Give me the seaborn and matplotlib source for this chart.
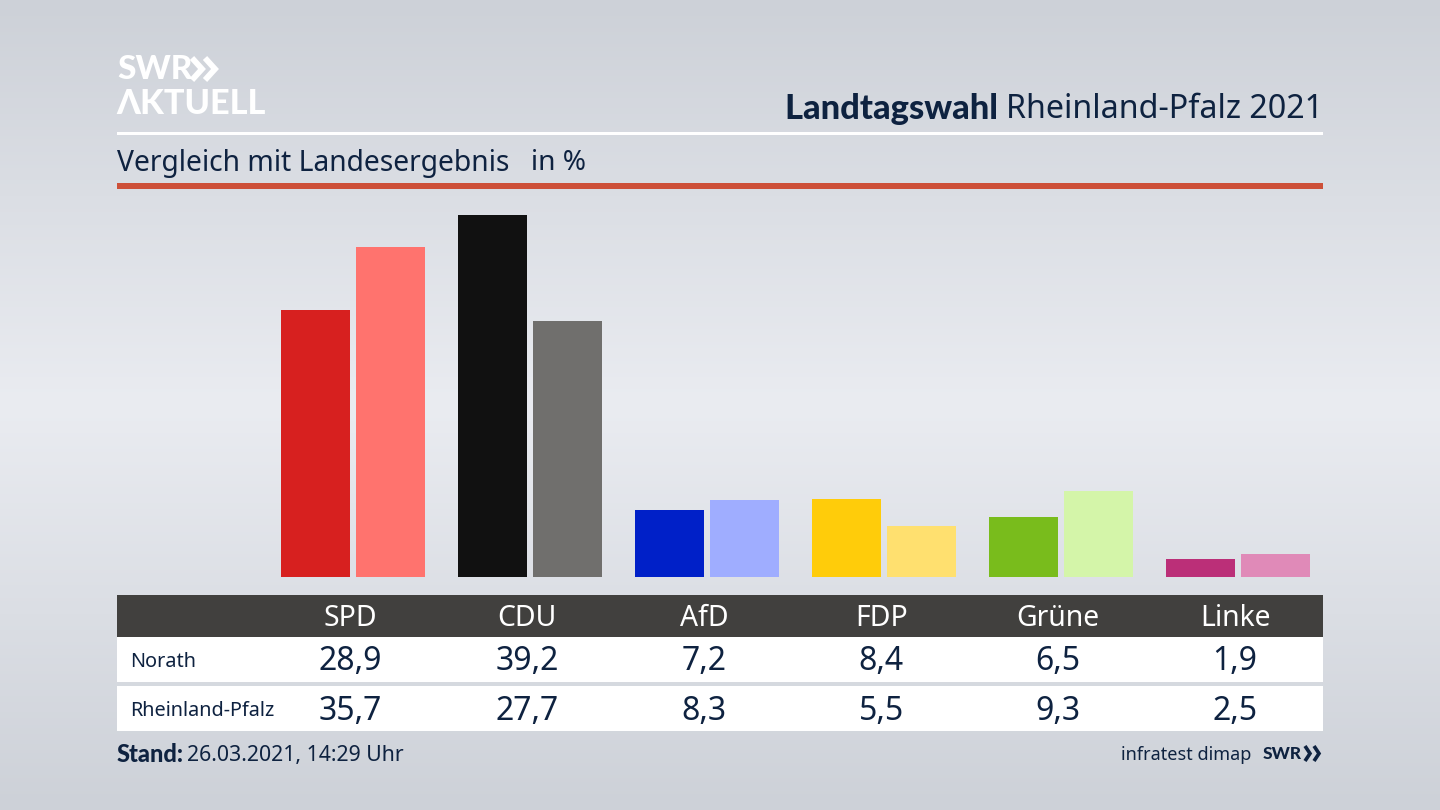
"""Landtagswahl Rheinland-Pfalz 2021: Norath vs. Landesergebnis."""
import numpy as np
import pandas as pd
import matplotlib
matplotlib.use("Agg")
import matplotlib.pyplot as plt
from matplotlib.colors import LinearSegmentedColormap
from matplotlib.patches import Rectangle
from matplotlib.transforms import Affine2D, blended_transform_factory
import seaborn as sns

PARTIES = ["SPD", "CDU", "AfD", "FDP", "Grüne", "Linke"]
NORATH = [28.9, 39.2, 7.2, 8.4, 6.5, 1.9]
LAND = [35.7, 27.7, 8.3, 5.5, 9.3, 2.5]
ROWS = ["Norath", "Rheinland-Pfalz"]
COLORS_NORATH = ["#d7201f", "#111111", "#0020c8", "#ffcc0a", "#79bc1c", "#bb2f78"]
COLORS_LAND = ["#ff736e", "#706f6d", "#9fadff", "#ffe06f", "#d4f5a9", "#e08ab8"]

NAVY = "#0e2240"
BOLD = "Lato"
W, H = 1440, 810

sns.set_theme(style="white")
plt.rcParams["font.family"] = ["Noto Sans", "DejaVu Sans"]

fig = plt.figure(figsize=(W / 100, H / 100), dpi=100)

# background, lightest around the middle of the picture
bg = fig.add_axes([0, 0, 1, 1], zorder=0)
bg.imshow(np.abs(np.linspace(-1, 1, 256)).reshape(-1, 1),
          cmap=LinearSegmentedColormap.from_list("bg", ["#eaecf1", "#cdd1d8"]),
          aspect="auto", extent=(0, W, H, 0), vmin=0, vmax=1)
bg.set_xlim(0, W)
bg.set_ylim(H, 0)
bg.axis("off")

# bars: x runs 265-1326 px, y 577 up to 189 px
ax = fig.add_axes([264.7 / W, 1 - 577 / H, (1326.2 - 264.7) / W, (577 - 189) / H], zorder=1)
ax.patch.set_alpha(0)
df = pd.DataFrame({
    "party": PARTIES * 2,
    "value": NORATH + LAND,
    "area": [ROWS[0]] * len(PARTIES) + [ROWS[1]] * len(PARTIES),
})
sns.barplot(data=df, x="party", y="value", hue="area", order=PARTIES, hue_order=ROWS,
            width=0.847, gap=0.08, legend=False, saturation=1, ax=ax)
for container, cols in zip(ax.containers, [COLORS_NORATH, COLORS_LAND]):
    for bar, c in zip(container, cols):
        bar.set_facecolor(c)
        bar.set_edgecolor("none")
ax.set_xlim(-0.5, 5.5)
ax.set_ylim(0, 42.0)
ax.axis("off")

# overlay in pixel coordinates for header and table
ov = fig.add_axes([0, 0, 1, 1], zorder=2)
ov.set_xlim(0, W)
ov.set_ylim(H, 0)
ov.axis("off")
ov.patch.set_alpha(0)

L, R = 117, 1323
ov.add_patch(Rectangle((L, 132), R - L, 3, color="white", lw=0))
ov.add_patch(Rectangle((L, 183), R - L, 6, color="#cd5039", lw=0))
ov.add_patch(Rectangle((L, 595), R - L, 42, color="#41403e", lw=0))
ov.add_patch(Rectangle((L, 637), R - L, 45, color="white", lw=0))
ov.add_patch(Rectangle((L, 686), R - L, 45, color="white", lw=0))

# logo
ov.text(117, 69.5, "SWR", color="white", fontsize=24, family=BOLD, fontweight="black", va="center", ha="left")
ov.text(116, 103.5, "ΛKTUELL", color="white", fontsize=24.7, family=[BOLD, "DejaVu Sans"], fontweight="black", va="center", ha="left")
for x0 in (192, 205):
    ov.plot([x0, x0 + 10, x0], [58, 69, 80], color="white", lw=4.2, solid_joinstyle="miter", solid_capstyle="butt")

# title
title = ov.text(1323, 109, "Rheinland-Pfalz 2021", color=NAVY, fontsize=23.2, ha="right", va="center")
ov.annotate("Landtagswahl ", xy=(0, 0.5), xycoords=title, color=NAVY, fontsize=24.8, family=BOLD, fontweight="black",
            ha="right", va="center")
ov.text(117, 163, "Vergleich mit Landesergebnis", color=NAVY, fontsize=20.35, ha="left", va="center")
ov.text(531, 163, "in %", color=NAVY, fontsize=20.2, ha="left", va="center")

# table, the party columns sit 3 px left of the bar groups
tr = blended_transform_factory(ax.transData + Affine2D().translate(-2.7, 0), ov.transData)
for i, party in enumerate(PARTIES):
    ov.text(i, 618, party, color="white", fontsize=20.4, ha="center", va="center", transform=tr)
    ov.text(i, 662, f"{NORATH[i]:.1f}".replace(".", ","), color=NAVY, fontsize=23, ha="center", va="center", transform=tr)
    ov.text(i, 711, f"{LAND[i]:.1f}".replace(".", ","), color=NAVY, fontsize=23, ha="center", va="center", transform=tr)
ov.text(130, 662, ROWS[0], color=NAVY, fontsize=14.3, ha="left", va="center")
ov.text(130, 711, ROWS[1], color=NAVY, fontsize=14.3, ha="left", va="center")

# footer
ov.text(117, 755, "Stand:", color=NAVY, fontsize=17, family=BOLD, fontweight="black", ha="left", va="center")
ov.text(187, 756, "26.03.2021, 14:29 Uhr", color=NAVY, fontsize=15.3, ha="left", va="center")
ov.text(1251, 755, "infratest dimap", color=NAVY, fontsize=13, ha="right", va="center")
ov.text(1263, 754, "SWR", color=NAVY, fontsize=12.4, family=BOLD, fontweight="black", ha="left", va="center")
for x0 in (1305, 1314):
    ov.plot([x0, x0 + 5, x0], [746, 753.5, 761], color=NAVY, lw=2.6, solid_joinstyle="miter", solid_capstyle="butt")

fig.savefig("out.png", dpi=100)
